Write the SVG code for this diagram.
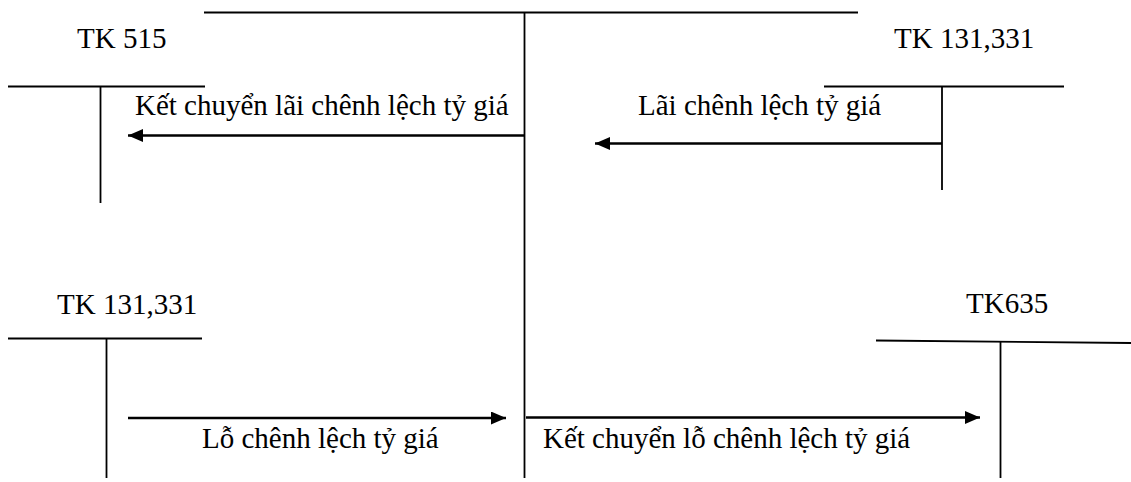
<svg xmlns="http://www.w3.org/2000/svg" width="1131" height="482" viewBox="0 0 1131 482">
  <style>
    .bg { fill: #ffffff; }
    .t-line { stroke: #000000; stroke-width: 1.8; fill: none; }
    .flow { stroke: #000000; stroke-width: 2.6; fill: none; marker-end: url(#arrow); }
    .label { font-family: "Liberation Serif", "Times New Roman", serif; font-size: 29px; fill: #000000; }
  </style>
  <defs>
    <marker id="arrow" markerUnits="userSpaceOnUse" markerWidth="16" markerHeight="14" refX="15" refY="6.5" orient="auto">
      <path d="M0,0 L15,6.5 L0,13 Z" fill="#000000"/>
    </marker>
  </defs>

  <rect class="bg" x="0" y="0" width="1131" height="482"/>

  <!-- central clearing account (TK 413) -->
  <g id="tk-central">
    <line class="t-line" x1="204" y1="12.5" x2="858" y2="12.5"/>
    <line class="t-line" x1="524.5" y1="12" x2="524.5" y2="478"/>
  </g>

  <!-- TK 515 -->
  <g id="tk-515">
    <text class="label" x="77" y="48">TK 515</text>
    <line class="t-line" x1="8" y1="86.5" x2="205" y2="86.5"/>
    <line class="t-line" x1="100.5" y1="86" x2="100.5" y2="203"/>
  </g>

  <!-- TK 131,331 (upper right) -->
  <g id="tk-131-331-top">
    <text class="label" x="894" y="48">TK 131,331</text>
    <line class="t-line" x1="824" y1="86.5" x2="1064" y2="86.5"/>
    <line class="t-line" x1="942" y1="86" x2="942" y2="190"/>
  </g>

  <!-- TK 131,331 (lower left) -->
  <g id="tk-131-331-bottom">
    <text class="label" x="57" y="314">TK 131,331</text>
    <line class="t-line" x1="8" y1="338.5" x2="202" y2="338.5"/>
    <line class="t-line" x1="106.5" y1="338" x2="106.5" y2="478"/>
  </g>

  <!-- TK635 -->
  <g id="tk-635">
    <text class="label" x="966" y="313">TK635</text>
    <line class="t-line" x1="876" y1="340.5" x2="1131" y2="343"/>
    <line class="t-line" x1="1000.5" y1="342" x2="1000.5" y2="478"/>
  </g>

  <!-- posting arrows -->
  <g id="connectors">
    <line class="flow" x1="524" y1="135.5" x2="128" y2="135.5"/>
    <line class="flow" x1="942" y1="143.5" x2="595" y2="143.5"/>
    <line class="flow" x1="128" y1="418" x2="506" y2="418"/>
    <line class="flow" x1="526" y1="417.5" x2="980" y2="417.5"/>
  </g>

  <!-- arrow labels -->
  <g id="labels">
    <text class="label" x="135" y="115">Kết chuyển lãi chênh lệch tỷ giá</text>
    <text class="label" x="638" y="115">Lãi chênh lệch tỷ giá</text>
    <text class="label" x="202" y="448">Lỗ chênh lệch tỷ giá</text>
    <text class="label" x="543" y="448">Kết chuyển lỗ chênh lệch tỷ giá</text>
  </g>
</svg>
